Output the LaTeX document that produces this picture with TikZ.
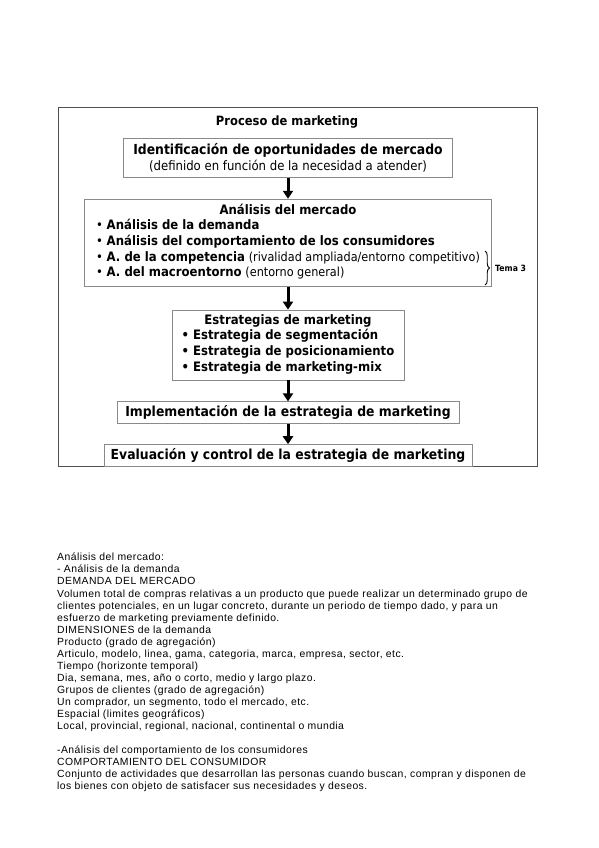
\documentclass[tikz,border=0pt]{standalone}
\usepackage{fontspec}
\setmainfont{Liberation Sans}[LetterSpace=4.3]
\newfontfamily\procfont[FakeStretch=0.9]{DejaVu Sans}
\usetikzlibrary{arrows.meta, positioning, decorations.pathreplacing}
\definecolor{FrameInk}{HTML}{505050}
\definecolor{BoxInk}{HTML}{8A8A8A}

\newcommand{\stagebig}{\fontsize{13.8}{17}\selectfont}
\newcommand{\stagenote}[1]{{\fontsize{12.5}{15.6}\selectfont #1}}

\begin{document}
\begin{tikzpicture}[
  x=1pt, y=-1pt,
  stage/.style={
    draw=BoxInk,
    line width=0.8pt,
    inner sep=0pt,
    align=center,
    font=\procfont\fontsize{13}{15.6}\selectfont,
  },
  flow/.style={
    -{Triangle[length=8pt, width=10pt]},
    line width=3pt,
  },
  notes/.style={
    anchor=north west,
    inner sep=0pt,
    align=left,
    font=\fontsize{10.4}{12.05}\selectfont,
  },
]
  \useasboundingbox (0,0) rectangle (599,848);

  \node[draw=FrameInk, line width=1.3pt, anchor=north west,
    minimum width=479pt, minimum height=359pt] (frame) at (58,107) {};
  \node[font=\procfont\bfseries\fontsize{12.8}{15}\selectfont] (ttl) at (287,122)
    {Proceso de marketing};

  \node[stage, minimum width=329pt, minimum height=39pt, anchor=north] (ident) at (288,138) {%
    {\stagebig\textbf{Identificación de oportunidades de mercado}}\\[0.5pt]
    (definido en función de la necesidad a atender)%
  };

  \node[stage, minimum width=407pt, minimum height=87pt, below=21pt of ident] (mkt) {%
    \textbf{Análisis del mercado}\\
    \begin{tabular}[t]{@{}l@{}}
      \textbullet\ \textbf{Análisis de la demanda}\\
      \textbullet\ \textbf{Análisis del comportamiento de los consumidores}\\
      \textbullet\ \textbf{A. de la competencia} \stagenote{(rivalidad ampliada/entorno competitivo)}\\
      \textbullet\ \textbf{A. del macroentorno} \stagenote{(entorno general)}
    \end{tabular}%
  };

  \node[stage, minimum width=232pt, minimum height=70pt, below=23pt of mkt] (strat) {%
    \textbf{Estrategias de marketing}\\
    \begin{tabular}[t]{@{}l@{}}
      \textbf{\textbullet\ Estrategia de segmentación}\\
      \textbf{\textbullet\ Estrategia de posicionamiento}\\
      \textbf{\textbullet\ Estrategia de marketing-mix}
    \end{tabular}%
  };

  \node[stage, minimum width=342pt, minimum height=22pt, below=21pt of strat] (impl)
    {\stagebig\textbf{Implementación de la estrategia de marketing}};
  \node[stage, minimum width=368pt, minimum height=22pt, below=20pt of impl] (eval)
    {\stagebig\textbf{Evaluación y control de la estrategia de marketing}};

  \draw[flow] (ident) -- (mkt);
  \draw[flow] (mkt) -- (strat);
  \draw[flow] (strat) -- (impl);
  \draw[flow] (impl) -- (eval);

  % tema 3 brace
  \coordinate (brTop) at (485,251);
  \coordinate (brBot) at (485,285);
  \draw[decorate, decoration={brace, amplitude=4.5pt}, line width=0.9pt]
    (brTop) -- (brBot);
  \node[font=\procfont\bfseries\fontsize{8.6}{10}\selectfont, anchor=west, inner sep=0pt]
    (tema) at (495,268) {Tema 3};

  \node[notes] (apuntes) at (57,553) {%
    Análisis del mercado:\\
    - Análisis de la demanda\\
    DEMANDA DEL MERCADO\\
    Volumen total de compras relativas a un producto que puede realizar un determinado grupo de\\
    clientes potenciales, en un lugar concreto, durante un periodo de tiempo dado, y para un\\
    esfuerzo de marketing previamente definido.\\
    DIMENSIONES de la demanda\\
    Producto (grado de agregación)\\
    Articulo, modelo, linea, gama, categoria, marca, empresa, sector, etc.\\
    Tiempo (horizonte temporal)\\
    Dia, semana, mes, año o corto, medio y largo plazo.\\
    Grupos de clientes (grado de agregación)\\
    Un comprador, un segmento, todo el mercado, etc.\\
    Espacial (limites geográficos)\\
    Local, provincial, regional, nacional, continental o mundia\\[12.05pt]
    -Análisis del comportamiento de los consumidores\\
    COMPORTAMIENTO DEL CONSUMIDOR\\
    Conjunto de actividades que desarrollan las personas cuando buscan, compran y disponen de\\
    los bienes con objeto de satisfacer sus necesidades y deseos.%
  };
\end{tikzpicture}
\end{document}
